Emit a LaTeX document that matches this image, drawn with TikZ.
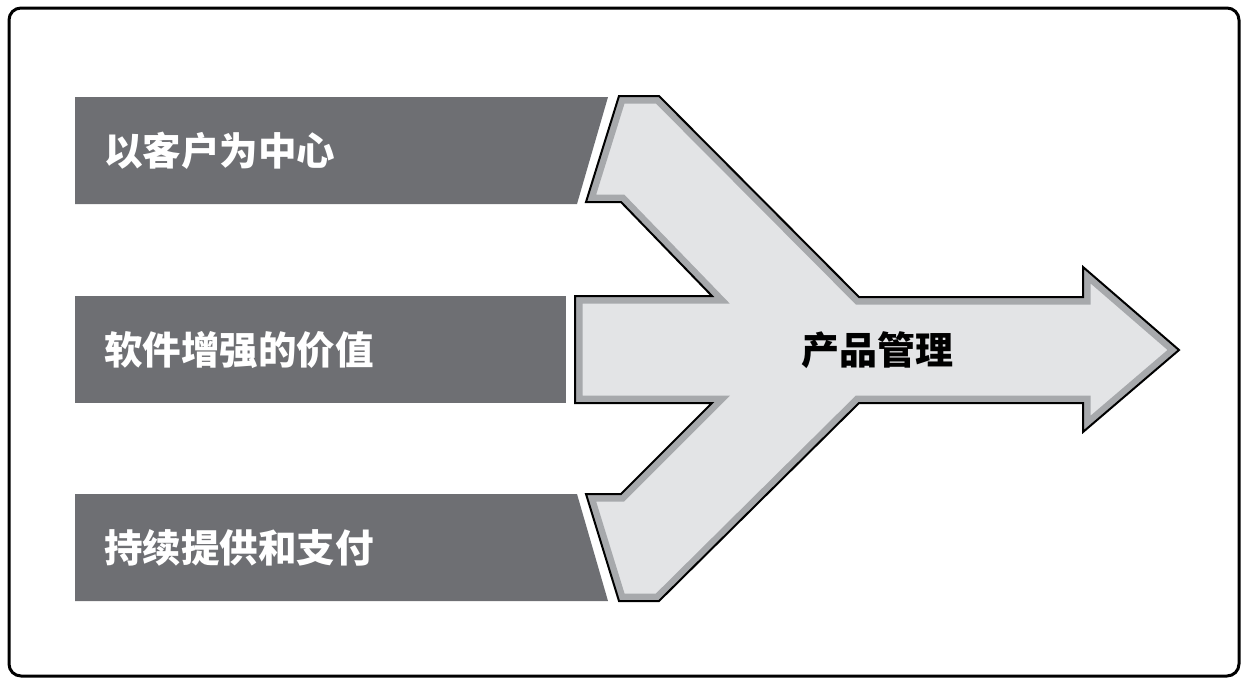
\documentclass[tikz,border=0pt]{standalone}
\usepackage{fontspec}
\newfontfamily\cjk{Noto Sans CJK SC}
\definecolor{bargray}{HTML}{6E6F73}
\definecolor{arrowfill}{HTML}{E3E4E6}
\definecolor{bandgray}{HTML}{A7A9AC}
\newcommand\myarrowpath{(619,96) -- (659,96) -- (859,297) -- (1083,297) -- (1083,267) -- (1179,350) -- (1083,432) -- (1083,403) -- (859,403) -- (659,601) -- (619,601) -- (586,494) -- (621,494) -- (712,403) -- (575,403) -- (575,296) -- (712,296) -- (621,202) -- (586,202) -- cycle}
\tikzset{
  barbox/.style={fill=bargray, draw=none},
  barlabel/.style={anchor=west, inner sep=0pt, text=white, font=\cjk\bfseries\fontsize{38.5}{40}\selectfont},
  centerlabel/.style={inner sep=0pt, text=black, font=\cjk\bfseries\fontsize{38}{40}\selectfont},
}
\begin{document}
\begin{tikzpicture}[x=1pt,y=-1pt]
\useasboundingbox (0,0) rectangle (1242,678);
\draw[line width=3pt, rounded corners=12pt] (9,8) rectangle (1239,676);
% bars
\fill[barbox] (75,97) -- (608,97) -- (577,204) -- (75,204) -- cycle;
\fill[barbox] (75,296) -- (566,296) -- (566,403) -- (75,403) -- cycle;
\fill[barbox] (75,494) -- (577,494) -- (608,601) -- (75,601) -- cycle;
% arrow
\fill[arrowfill] \myarrowpath;
\begin{scope}
  \clip \myarrowpath;
  \draw[bandgray, line width=15pt, line join=miter] \myarrowpath;
\end{scope}
\draw[black, line width=2pt, line join=miter] \myarrowpath;
% labels
\node[barlabel] (l1) at (104,151) {以客户为中心};
\node[barlabel] (l2) at (104,350) {软件增强的价值};
\node[barlabel] (l3) at (104,548) {持续提供和支付};
\node[centerlabel] (c) at (877,350) {产品管理};
\end{tikzpicture}
\end{document}
